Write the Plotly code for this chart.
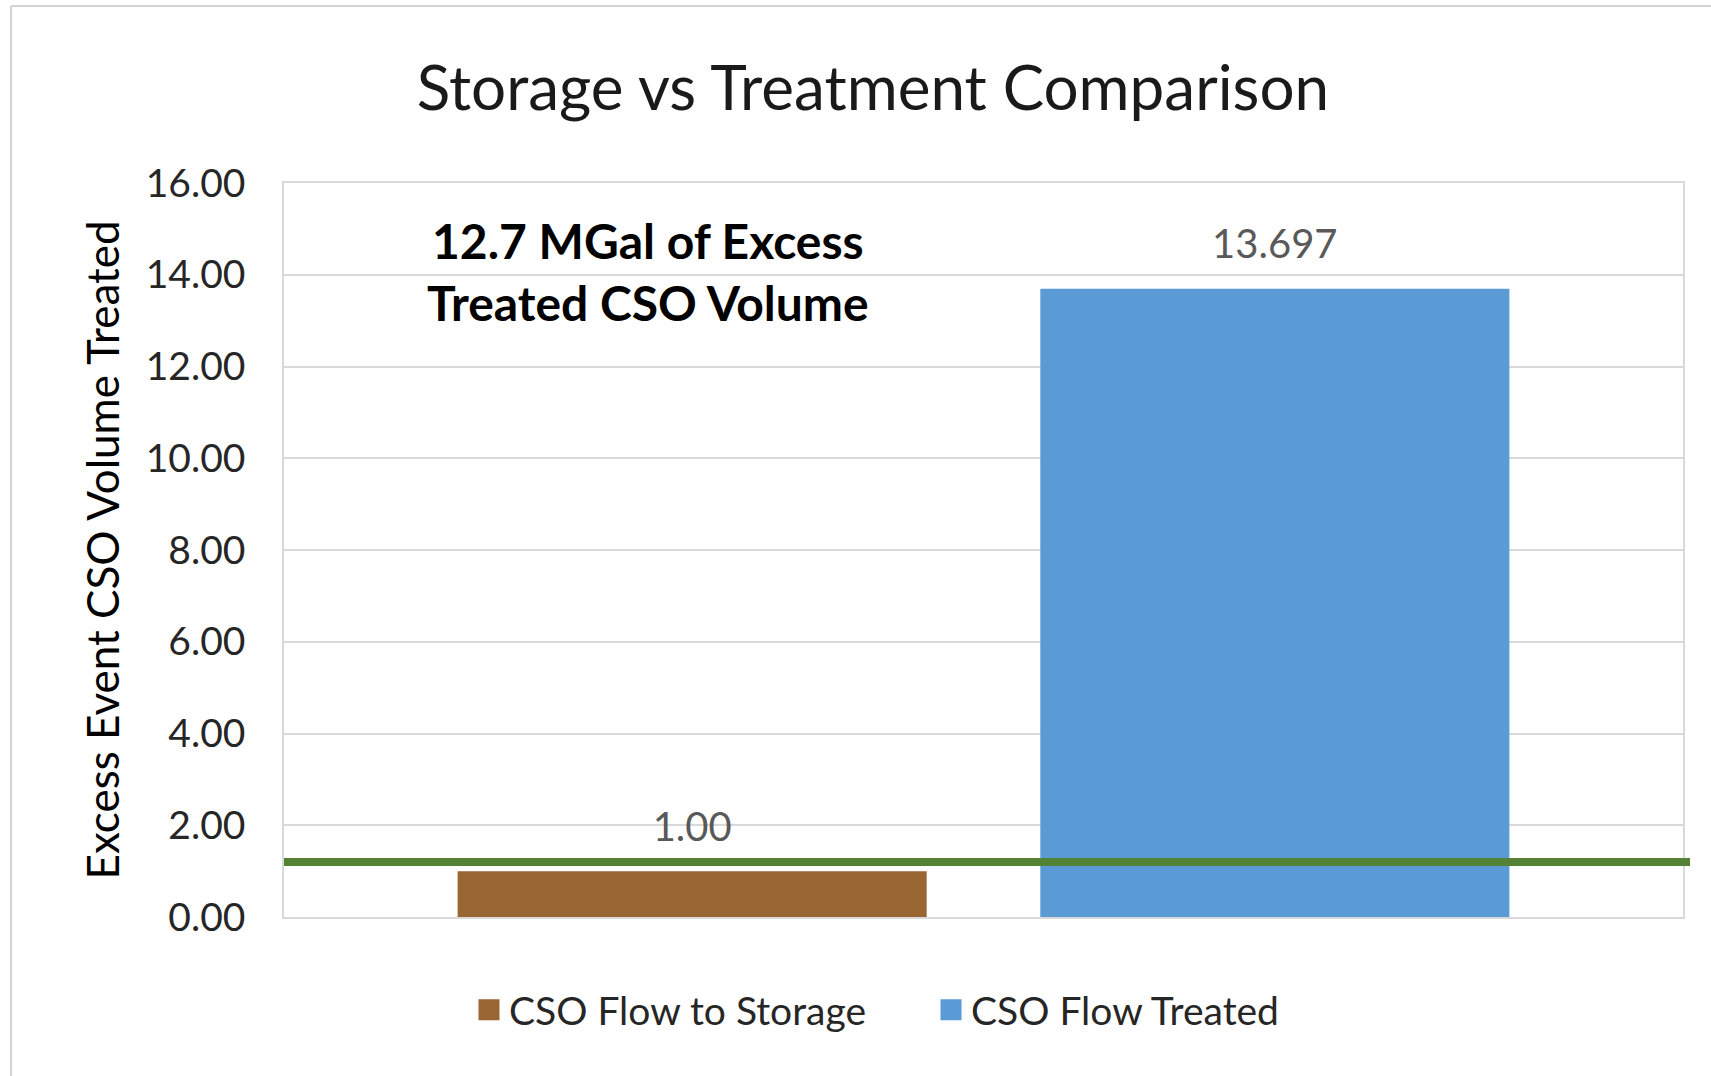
import plotly.graph_objects as go

# ---- data ----
category = ["Excess Event"]
series_names = ["CSO Flow to Storage", "CSO Flow Treated"]
series_values = [1.00, 13.697]
series_labels = ["1.00", "13.697"]
series_colors = ["#996633", "#5b9bd5"]
threshold_value = 1.2
y_ticks = [0, 2, 4, 6, 8, 10, 12, 14, 16]
chart_title = "Storage vs Treatment Comparison"
y_title = "Excess Event CSO Volume Treated"
note_text = "<b>12.7 MGal of Excess<br>Treated CSO Volume</b>"

FONT = "Lato"
W, H = 1711, 1076
ML, MR, MT, MB = 284, 28, 183, 159
PW, PH = W - ML - MR, H - MT - MB

fig = go.Figure()

for name, val, col in zip(series_names, series_values, series_colors):
    fig.add_trace(go.Bar(
        x=category, y=[val], name=name, offsetgroup=name,
        marker=dict(color=col, line=dict(width=0)),
        hoverinfo="skip", showlegend=False,
    ))

for name, val, lab in zip(series_names, series_values, series_labels):
    fig.add_trace(go.Scatter(
        x=category, y=[val], offsetgroup=name, mode="markers+text",
        text=[lab], textposition="top center",
        textfont=dict(family=FONT, size=40, color="#595959"),
        marker=dict(size=31, color="rgba(0,0,0,0)"),
        showlegend=False, hoverinfo="skip", cliponaxis=False,
    ))

# legend entries (larger square swatches)
for name, col in zip(series_names, series_colors):
    fig.add_trace(go.Scatter(
        x=[None], y=[None], offsetgroup=name, mode="markers", name=name,
        marker=dict(symbol="square", size=16, color=col,
                    line=dict(color=col, width=5)),
        showlegend=True, hoverinfo="skip",
    ))

fig.add_shape(type="line", xref="paper", yref="y",
              x0=0, x1=1.005, y0=threshold_value, y1=threshold_value,
              line=dict(color="#548235", width=8), layer="above")

# outer chart border (partially cropped)
bx = (11 - ML) / PW
by = (H - MB - 6) / PH
fig.add_shape(type="line", xref="paper", yref="paper", x0=bx, x1=bx, y0=by, y1=-1,
              line=dict(color="#c4c4c4", width=1.5))
fig.add_shape(type="line", xref="paper", yref="paper", x0=bx, x1=2, y0=by, y1=by,
              line=dict(color="#c4c4c4", width=1.5))

fig.add_annotation(xref="paper", yref="paper", x=(648 - ML) / PW, y=(H - MB - 271) / PH,
                   text=note_text, showarrow=False, xanchor="center", yanchor="middle",
                   font=dict(family=FONT, size=48, color="#000000"))

fig.update_layout(
    width=W, height=H,
    margin=dict(l=ML, r=MR, t=MT, b=MB),
    paper_bgcolor="white", plot_bgcolor="white",
    barmode="group", bargap=0.167, bargroupgap=0.195,
    scattermode="group", scattergap=0.167,
    title=dict(text=chart_title, x=873 / W, xanchor="center",
               y=1 - 88 / H, yanchor="middle", yref="container",
               font=dict(family=FONT, size=62, color="#1a1a1a")),
    showlegend=True,
    legend=dict(orientation="h", x=(469 - ML) / PW, xanchor="left",
                y=(H - MB - 1010) / PH, yanchor="middle",
                font=dict(family=FONT, size=39, color="#262626"),
                itemsizing="trace", tracegroupgap=0,
                entrywidth=417, entrywidthmode="pixels"),
    font=dict(family=FONT),
)

fig.update_xaxes(showticklabels=False, showgrid=False, zeroline=False,
                 showline=True, mirror=True, linecolor="#d9d9d9", linewidth=1.5,
                 ticks="")
fig.update_yaxes(range=[0, 16], tickvals=y_ticks, tickformat=".2f",
                 showgrid=True, gridcolor="#d9d9d9", gridwidth=1.5,
                 zeroline=False, showline=True, mirror=True,
                 linecolor="#d9d9d9", linewidth=1.5,
                 ticks="", ticklabelstandoff=29,
                 tickfont=dict(family=FONT, size=39, color="#262626"),
                 title=dict(text=y_title, standoff=12,
                            font=dict(family=FONT, size=44, color="#000000")))

fig.write_html("out.html", config={"displayModeBar": False},
               post_script="document.body.style.margin='0';")
